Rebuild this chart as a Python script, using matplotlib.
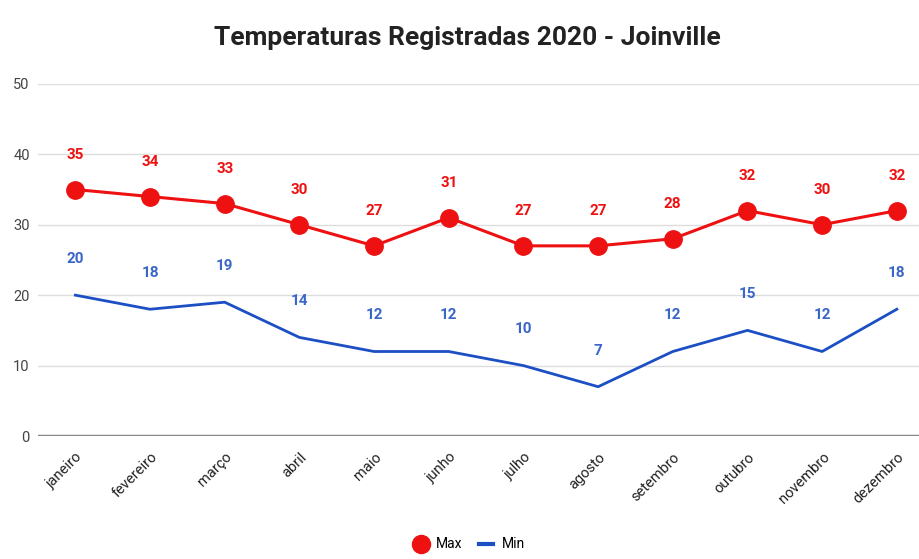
import matplotlib
matplotlib.use('Agg')
import matplotlib.pyplot as plt
from matplotlib.lines import Line2D

meses = ["janeiro", "fevereiro", "março", "abril", "maio", "junho",
         "julho", "agosto", "setembro", "outubro", "novembro", "dezembro"]
temp_max = [35, 34, 33, 30, 27, 31, 27, 27, 28, 32, 30, 32]
temp_min = [20, 18, 19, 14, 12, 12, 10, 7, 12, 15, 12, 18]

RED = "#ee1111"
BLUE = "#1c4fc4"
BLUE_TXT = "#3a66c8"

plt.rcParams['font.family'] = ['Roboto', 'DejaVu Sans']

fig = plt.figure(figsize=(9.2, 5.59), dpi=100)
ax = fig.add_axes([0.0413, 0.220, 0.9587, 0.630])

x = list(range(len(meses)))
ax.plot(x, temp_max, color=RED, lw=2.2, marker='o', ms=12.5, zorder=3)
ax.plot(x, temp_min, color=BLUE, lw=2.0, zorder=3)

# rótulos de dados acima dos pontos
for i, v in enumerate(temp_max):
    ax.annotate(str(v), (i, v), xytext=(0, 25), textcoords='offset points',
                ha='center', va='center', color=RED, fontsize=11, fontweight='bold')
for i, v in enumerate(temp_min):
    ax.annotate(str(v), (i, v), xytext=(0, 26), textcoords='offset points',
                ha='center', va='center', color=BLUE_TXT, fontsize=11, fontweight='bold')

ax.set_ylim(0, 50)
ax.set_xlim(-0.5, 11.31)
ax.set_yticks([0, 10, 20, 30, 40, 50])
ax.grid(axis='y', color='#dddddd', lw=1)
ax.set_axisbelow(True)
for s in ax.spines.values():
    s.set_visible(False)
ax.axhline(0, color='#888888', lw=2.5, zorder=2)
ax.tick_params(axis='both', length=0)
ax.tick_params(axis='y', labelsize=10.5, labelcolor='#444444', pad=6)
ax.set_xticks(x)
ax.set_xticklabels(meses, rotation=45, ha='right', rotation_mode='anchor',
                   fontsize=10.5, color='#222222')
ax.tick_params(axis='x', pad=10)

fig.text(0.508, 0.932, "Temperaturas Registradas 2020 - Joinville", ha='center', va='center',
         fontsize=19, fontweight='bold', color='#222222')

handles = [Line2D([], [], color=RED, marker='o', ms=13, lw=0),
           Line2D([], [], color=BLUE, lw=3)]
fig.legend(handles, ["Max", "Min"], loc='center', bbox_to_anchor=(0.51, 0.026),
           ncol=2, frameon=False, fontsize=10, handlelength=1.0, columnspacing=1.2,
           handletextpad=0.6)

fig.savefig("out.png", dpi=100)
